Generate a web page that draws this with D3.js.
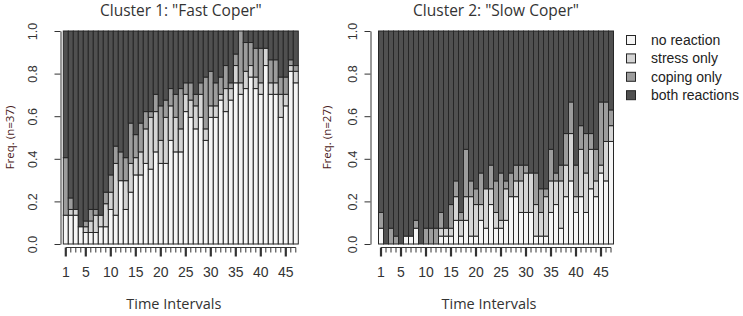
<!DOCTYPE html>
<html>
<head>
<meta charset="utf-8">
<script src="https://cdn.jsdelivr.net/npm/d3@7"></script>
<style>
  html, body { margin: 0; padding: 0; background: #fff; }
  svg { display: block; }
</style>
</head>
<body>
<svg id="chart" width="743" height="316"></svg>
<script>
// ---- DATA ----
const timeIntervals = d3.range(1, 48);
const reactionKeys = ["no reaction", "stress only", "coping only", "both reactions"];
const xTickLabels = [1, 5, 10, 15, 20, 25, 30, 35, 40, 45];
const yTickValues = [0, 0.2, 0.4, 0.6, 0.8, 1.0];

const cluster1Title = "Cluster 1: \"Fast Coper\"";
const cluster1N = 37;
const c1NoReaction = [5,5,5,3,2,2,2,3,3,6,5,11,6,9,12,12,14,13,16,14,14,18,16,16,23,22,20,22,18,22,22,25,23,25,28,26,27,29,27,26,31,26,26,22,24,30,28];
const c1StressOnly = [0,1,1,0,1,2,3,2,4,3,9,0,5,5,3,4,6,9,7,4,8,6,6,4,3,3,4,4,2,2,2,1,4,2,3,2,3,2,2,2,3,2,2,4,2,1,2];
const c1CopingOnly = [10,2,0,0,1,2,1,0,2,3,3,5,4,7,4,5,3,1,3,6,3,3,4,7,2,3,2,2,9,6,4,3,4,1,2,9,5,4,5,6,0,4,4,3,3,1,1];
const c1Both       = [22,29,31,34,33,31,31,32,28,25,20,21,22,16,18,16,14,14,11,13,12,10,11,10,9,9,11,9,8,7,9,8,6,9,4,0,2,2,3,3,3,5,5,8,8,5,6];

const cluster2Title = "Cluster 2: \"Slow Coper\"";
const cluster2N = 27;
const c2NoReaction = [2,0,0,0,0,1,1,2,0,0,0,0,1,1,1,3,1,3,1,1,3,2,5,2,2,3,6,6,4,4,4,1,1,1,4,5,2,6,8,4,6,4,7,6,9,8,13];
const c2StressOnly = [0,0,0,0,0,0,0,0,0,0,0,0,1,1,1,3,2,3,5,4,2,5,2,2,1,4,0,2,4,5,5,4,3,5,4,3,6,4,6,2,6,5,5,2,1,5,2];
const c2CopingOnly = [2,0,2,1,0,0,0,1,0,2,2,2,2,0,3,2,1,6,2,2,4,0,3,4,6,1,3,2,2,1,0,4,3,1,4,1,2,4,4,4,3,5,2,4,8,5,2];
const c2Both       = [23,27,25,26,27,26,26,24,27,25,25,25,23,25,22,19,23,15,19,20,18,20,17,19,18,19,18,17,17,17,18,18,20,20,15,18,17,13,9,17,12,13,13,15,9,9,10];

// ---- STYLE ----
const fills = ["#f5f5f5", "#d4d4d4", "#9c9c9c", "#505050"];
const plotTop = 31, plotBottom = 244;

function buildRows(n, a, b, c, d) {
  return timeIntervals.map((t, i) => ({
    t,
    "no reaction": a[i] / n,
    "stress only": b[i] / n,
    "coping only": c[i] / n,
    "both reactions": d[i] / n
  }));
}

const svg = d3.select("#chart");

function drawPanel(opts) {
  const { left, right, title, n, rows, yAxisX, yLabelX, tickLabelX } = opts;
  const g = svg.append("g");
  const x = d3.scaleBand().domain(timeIntervals).range([left, right]).padding(0);
  const y = d3.scaleLinear().domain([0, 1]).range([plotBottom, plotTop]);
  const color = d3.scaleOrdinal().domain(reactionKeys).range(fills);
  const stacked = d3.stack().keys(reactionKeys)(rows);

  g.selectAll("g.layer").data(stacked).join("g")
    .attr("class", "layer")
    .attr("fill", d => color(d.key))
    .selectAll("rect").data(d => d).join("rect")
      .attr("x", d => x(d.data.t))
      .attr("y", d => y(d[1]))
      .attr("width", x.bandwidth())
      .attr("height", d => Math.max(0, y(d[0]) - y(d[1])))
      .attr("stroke", "#262626")
      .attr("stroke-width", 1);

  // title
  g.append("text")
    .attr("x", (left + right) / 2)
    .attr("y", 16)
    .attr("text-anchor", "middle")
    .attr("font-family", "Open Sans, Noto Sans, sans-serif")
    .attr("font-size", 15.5)
    .attr("fill", "#333")
    .text(title);

  // y axis
  const yAxis = d3.axisLeft(y).tickValues(yTickValues).tickFormat(d3.format(".1f"))
    .tickSize(6).tickSizeOuter(0).tickPadding(0);
  const ya = g.append("g").attr("transform", `translate(${yAxisX},0)`).call(yAxis);
  ya.select(".domain").attr("stroke", "#333");
  ya.selectAll(".tick line").attr("stroke", "#333");
  ya.selectAll(".tick text")
    .attr("font-family", "Liberation Sans, Arial, sans-serif")
    .attr("font-size", 12.5)
    .attr("fill", "#333")
    .attr("text-anchor", "middle")
    .attr("x", 0).attr("dy", 0)
    .attr("transform", `translate(${tickLabelX - yAxisX},0) rotate(-90)`)
    .attr("y", 0);

  // y label
  g.append("text")
    .attr("transform", `translate(${yLabelX},${(plotTop + plotBottom) / 2}) rotate(-90)`)
    .attr("text-anchor", "middle")
    .attr("font-family", "Open Sans, Noto Sans, sans-serif")
    .attr("font-size", 11.5)
    .attr("fill", "#4a2020")
    .text(`Freq. (n=${n})`);

  // x axis
  const axisY = 247.5;
  const xAxis = d3.axisBottom(x).tickValues(timeIntervals)
    .tickFormat(d => xTickLabels.includes(d) ? String(d) : "")
    .tickSize(5).tickSizeOuter(0).tickPadding(8);
  const xa = g.append("g").attr("transform", `translate(0,${axisY})`).call(xAxis);
  xa.select(".domain").remove();
  xa.append("line")
    .attr("x1", x(timeIntervals[0]) + x.bandwidth() / 2)
    .attr("x2", x(timeIntervals[timeIntervals.length - 1]) + x.bandwidth() / 2)
    .attr("stroke", "#333").attr("stroke-width", 1.2);
  xa.selectAll(".tick line")
    .attr("stroke", "#333")
    .attr("stroke-width", d => xTickLabels.includes(d) ? 2.2 : 1)
    .attr("y2", d => xTickLabels.includes(d) ? 9 : 5);
  xa.selectAll(".tick text")
    .attr("font-family", "Liberation Sans, Arial, sans-serif")
    .attr("font-size", 14)
    .attr("fill", "#333")
    .attr("y", 20);

  // x label
  g.append("text")
    .attr("x", (left + right) / 2 - 7)
    .attr("y", 309)
    .attr("text-anchor", "middle")
    .attr("font-family", "Open Sans, Noto Sans, sans-serif")
    .attr("font-size", 14.5)
    .attr("fill", "#333")
    .text("Time Intervals");
}

drawPanel({
  left: 63.3, right: 298.3, title: cluster1Title, n: cluster1N,
  rows: buildRows(cluster1N, c1NoReaction, c1StressOnly, c1CopingOnly, c1Both),
  yAxisX: 60.5, yLabelX: 14, tickLabelX: 36.5
});
drawPanel({
  left: 378.5, right: 613.5, title: cluster2Title, n: cluster2N,
  rows: buildRows(cluster2N, c2NoReaction, c2StressOnly, c2CopingOnly, c2Both),
  yAxisX: 370.5, yLabelX: 331, tickLabelX: 357
});

// legend
const legend = svg.append("g");
reactionKeys.forEach((k, i) => {
  const cy = 40 + i * 18.4;
  legend.append("rect")
    .attr("x", 626.5).attr("y", cy - 4.5)
    .attr("width", 9).attr("height", 9)
    .attr("fill", fills[i]).attr("stroke", "#262626").attr("stroke-width", 1);
  legend.append("text")
    .attr("x", 651).attr("y", cy + 5)
    .attr("font-family", "Liberation Sans, Arial, sans-serif")
    .attr("font-size", 14)
    .attr("fill", "#222")
    .text(k);
});
</script>
</body>
</html>
